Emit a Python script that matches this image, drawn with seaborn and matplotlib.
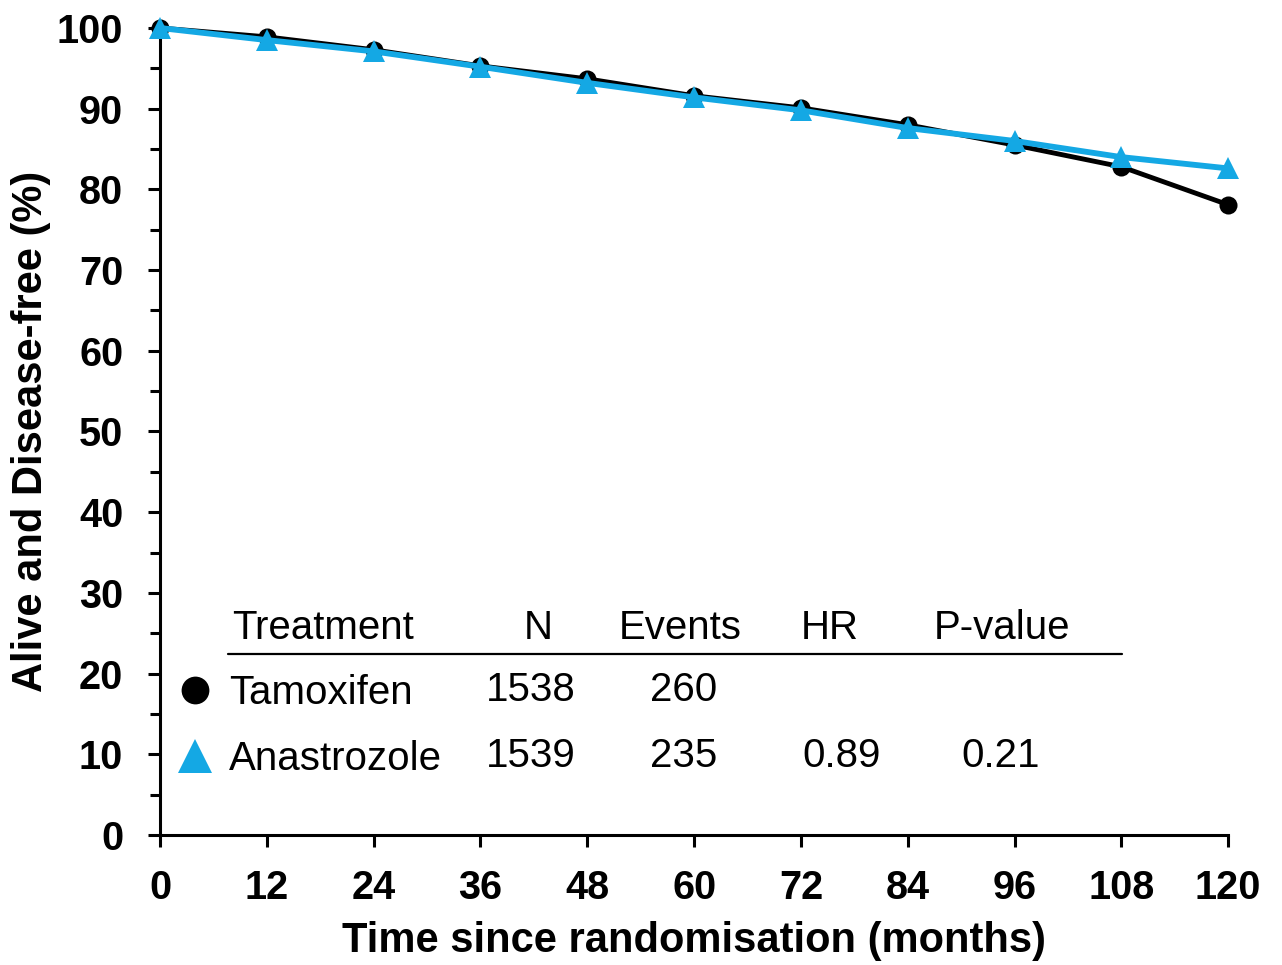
import matplotlib
matplotlib.use("Agg")
import matplotlib.pyplot as plt
from matplotlib.lines import Line2D
from matplotlib.ticker import MultipleLocator
import seaborn as sns
import pandas as pd

months = [0, 12, 24, 36, 48, 60, 72, 84, 96, 108, 120]
tamoxifen = [100, 98.9, 97.3, 95.3, 93.7, 91.6, 90.1, 88.0, 85.5, 82.8, 78.1]
anastrozole = [100, 98.5, 97.1, 95.2, 93.2, 91.4, 89.8, 87.6, 86.0, 84.0, 82.6]
groups = ["Tamoxifen", "Anastrozole"]
n_values = ["1538", "1539"]
events = ["260", "235"]
hr_values = ["", "0.89"]
p_values = ["", "0.21"]
headers = ["Treatment", "N", "Events", "HR", "P-value"]

BLACK = "#000000"
BLUE = "#14A8E4"

df = pd.DataFrame({
    "month": months * 2,
    "pct": tamoxifen + anastrozole,
    "group": ["Tamoxifen"] * len(months) + ["Anastrozole"] * len(months),
})

sns.set_theme(style="ticks")
plt.rcParams["font.family"] = ["Liberation Sans", "DejaVu Sans"]
plt.rcParams["text.color"] = "black"
plt.rcParams["axes.labelcolor"] = "black"
plt.rcParams["xtick.color"] = "black"
plt.rcParams["ytick.color"] = "black"

fig = plt.figure(figsize=(12.82, 9.65), dpi=100)
ax = fig.add_axes([0.1248, 0.1347, 0.8332, 0.8363])

sns.lineplot(data=df, x="month", y="pct", hue="group", style="group",
             palette={"Tamoxifen": BLACK, "Anastrozole": BLUE},
             markers={"Tamoxifen": "o", "Anastrozole": "^"},
             dashes=False, markeredgewidth=0,
             hue_order=groups, style_order=groups, legend=False, ax=ax)
for ln, ms, lw, z in zip(ax.lines, [13, 15.5], [3.5, 4.2], [2, 3]):
    ln.set_markersize(ms)
    ln.set_linewidth(lw)
    ln.set_zorder(z)
    ln.set_clip_on(False)

ax.set_xlim(0, 120)
ax.set_ylim(0, 100)
ax.set_xticks(months)
ax.yaxis.set_major_locator(MultipleLocator(10))
ax.yaxis.set_minor_locator(MultipleLocator(5))
for s in ["top", "right"]:
    ax.spines[s].set_visible(False)
for s in ["left", "bottom"]:
    ax.spines[s].set_linewidth(2.2)
    ax.spines[s].set_color("black")
ax.tick_params(axis="both", which="major", length=8.5, width=2.2, labelsize=28.5)
ax.tick_params(axis="x", which="major", pad=16)
ax.tick_params(axis="y", which="major", pad=18)
ax.tick_params(axis="y", which="minor", length=7, width=2.2)
for lab in ax.get_xticklabels() + ax.get_yticklabels():
    lab.set_fontweight("bold")
ax.set_xlabel("Time since randomisation (months)", fontsize=30, fontweight="bold", labelpad=10)
ax.set_ylabel("Alive and Disease-free (%)", fontsize=30, fontweight="bold", labelpad=4)
ax.grid(False)

# table
fs = 29
ax.text(8.1, 25.6, headers[0], fontsize=fs, ha="left", va="center")
col_x_head = [42.5, 58.4, 75.2, 94.6]
for h, x in zip(headers[1:], col_x_head):
    ax.text(x, 25.6, h, fontsize=fs, ha="center", va="center")
ax.plot([7.6, 108.1], [22.4, 22.4], color="black", lw=1.6, zorder=1)
row_y = [18.0, 9.8]
for i in range(2):
    ax.text(41.6, row_y[i], n_values[i], fontsize=fs, ha="center", va="center")
    ax.text(58.8, row_y[i], events[i], fontsize=fs, ha="center", va="center")
    ax.text(76.6, row_y[i], hr_values[i], fontsize=fs, ha="center", va="center")
    ax.text(94.4, row_y[i], p_values[i], fontsize=fs, ha="center", va="center")

handles = [Line2D([], [], color=BLACK, marker="o", linestyle="none", markersize=20, markeredgewidth=0),
           Line2D([], [], color=BLUE, marker="^", linestyle="none", markersize=25, markeredgewidth=0)]
leg = ax.legend(handles, groups, loc="upper left",
                bbox_to_anchor=(175 / 1282, (965 - 674) / 965), bbox_transform=fig.transFigure,
                frameon=False, fontsize=fs, borderpad=0, borderaxespad=0,
                handlelength=1.0, handletextpad=0.35, labelspacing=0.7)

fig.savefig("out.png", dpi=100)
